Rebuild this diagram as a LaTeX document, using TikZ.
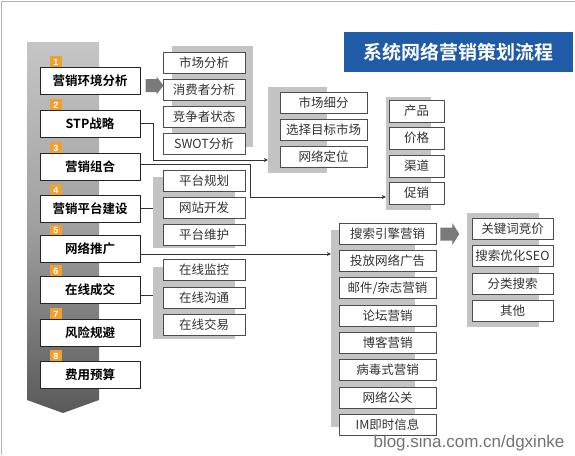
\documentclass[tikz,border=0pt]{standalone}
\usepackage{fontspec}
\setmainfont{Noto Sans CJK SC}
\newfontfamily\cjkbold{Noto Sans CJK SC Bold}
\newfontfamily\wmfont{Liberation Sans}
\usetikzlibrary{calc,arrows.meta}
\definecolor{tagorange}{HTML}{F0A030}
\definecolor{titleblue}{HTML}{1F5BA6}
\definecolor{panelgray}{HTML}{C4C4C4}
\definecolor{arrgray}{HTML}{7A7A7A}
\tikzset{
  stepbox/.style={draw=black!85, line width=1pt, fill=white, minimum width=100, minimum height=27, inner sep=0pt,
    font=\cjkbold\fontsize{12.5}{14}\selectfont, text=black},
  subbox/.style={draw=black!70, line width=0.6pt, fill=white, minimum height=21, inner sep=0pt,
    font=\fontsize{12.5}{14}\selectfont, text=black!80},
  panel/.style={fill=panelgray, draw=none, inner sep=0pt},
  tag/.style={fill=tagorange, minimum width=12, minimum height=12, inner sep=0pt, text=white,
    font=\wmfont\bfseries\fontsize{9}{10}\selectfont},
  conn/.style={draw=black!80, line width=0.6pt},
  connarrow/.style={conn, -{Stealth[length=4pt,width=4pt]}},
  bigarrow/.style={fill=arrgray}
}
\begin{document}
\begin{tikzpicture}[x=1pt,y=-1pt]
\useasboundingbox (0,0) rectangle (575,455);
\fill[white] (0,0) rectangle (575,455);
% frame lines
\draw[gray!60, line width=0.8pt] (1.5,455) -- (1.5,1.5) -- (575,1.5);

% title
\node[fill=titleblue, minimum width=229, minimum height=40, inner sep=0pt, text=white,
  font=\cjkbold\fontsize{19}{22}\selectfont] (title) at (458.5,52) {系统网络营销策划流程};

% left band
\shade[top color=gray!45, bottom color=black!65, middle color=gray!75]
  (27,42) -- (99,42) -- (99,400) -- (63,413) -- (27,400) -- cycle;

% step boxes with tags
\foreach \i/\t/\txt in {1/67/营销环境分析, 2/110/STP战略, 3/153/营销组合, 4/195/营销平台建设,
                        5/235.5/网络推广, 6/276/在线成交, 7/319/风险规避, 8/361/费用预算}{
  \node[tag] (t\i) at (56,\t-5) {\i};
  \node[stepbox] (b\i) at (90,\t+13.5) {\txt};
}

% group 1 (环境分析)
\node[panel, minimum width=81, minimum height=101] (p1) at (212.5,96.5) {};
\foreach \k/\y/\txt in {1/62.5/市场分析, 2/89.5/消费者分析, 3/116.5/竞争者状态, 4/143.5/SWOT分析}{
  \node[subbox, minimum width=82] (s1\k) at (204,\y) {\txt};
}

% group 2 (STP)
\node[panel, minimum width=59, minimum height=86] (p2) at (297.5,130) {};
\foreach \k/\y/\txt in {1/102.5/市场细分, 2/129.5/选择目标市场, 3/156.5/网络定位}{
  \node[subbox, minimum width=87] (s2\k) at (323.5,\y) {\txt};
}

% group 3 (4P)
\node[panel, minimum width=45, minimum height=113] (p3) at (408.5,153.5) {};
\foreach \k/\y/\txt in {1/111/产品, 2/138/价格, 3/166/渠道, 4/193/促销}{
  \node[subbox, minimum width=55, minimum height=22] (s3\k) at (416.5,\y) {\txt};
}

% group 4 (平台)
\node[panel, minimum width=82, minimum height=71] (p4) at (194,212.5) {};
\foreach \k/\y/\txt in {1/180.5/平台规划, 2/207.5/网站开发, 3/234.5/平台维护}{
  \node[subbox, minimum width=82] (s4\k) at (204,\y) {\txt};
}

% group 5 (推广)
\node[panel, minimum width=84, minimum height=197] (p5) at (373,328.5) {};
\foreach \k/\y/\txt in {1/233.5/{搜索引擎营销}, 2/260.8/{投放网络广告}, 3/288.1/{邮件/杂志营销}, 4/315.4/{论坛营销},
                        5/342.7/{博客营销}, 6/370/{病毒式营销}, 7/397.3/{网络公关}, 8/424.6/{IM即时信息}}{
  \node[subbox, minimum width=97] (s5\k) at (387.5,\y) {\txt};
}

% group 6 (搜索)
\node[panel, minimum width=72, minimum height=114] (p6) at (503,270) {};
\foreach \k/\y/\txt in {1/228.5/关键词竞价, 2/256/搜索优化SEO, 3/283.5/分类搜索, 4/311/其他}{
  \node[subbox, minimum width=81] (s6\k) at (512.5,\y) {\txt};
}

% group 7 (成交)
\node[panel, minimum width=82, minimum height=72] (p7) at (194,303) {};
\foreach \k/\y/\txt in {1/269.5/在线监控, 2/297.5/在线沟通, 3/324.5/在线交易}{
  \node[subbox, minimum width=82] (s7\k) at (204,\y) {\txt};
}

% big gray arrows
\coordinate (a1) at ($(b1.east)+(5,5)$);
\fill[bigarrow] (a1) ++(0,-6.5) -- ++(11,0) -- ++(0,-2.5) -- ++(7,9) -- ++(-7,9) -- ++(0,-2.5) -- ++(-11,0) -- cycle;
\coordinate (a2) at ($(s51.east)+(4,0.5)$);
\fill[bigarrow] (a2) ++(0,-6.5) -- ++(12,0) -- ++(0,-4.5) -- ++(7,11) -- ++(-7,11) -- ++(0,-4.5) -- ++(-12,0) -- cycle;

% connectors
\draw[connarrow] (b2.east) -- ++(13,0) |- ($(p2.west)+(0,30)$);
\coordinate (c3) at ($(b3.east)+(0,-2)$);
\draw[connarrow] (c3) -- ++(110,0) |- ($(p3.west)+(0,43.5)$);
\draw[conn] (b4.east) -- (b4.east -| p4.west);
\coordinate (c5) at ($(b5.east)+(0,5)$);
\draw[connarrow] (c5) -- (c5 -| p5.west);
\coordinate (c6) at ($(b6.east)+(0,6)$);
\draw[conn] (c6) -- (c6 -| p7.west);

% watermark
\node[text=black!55, font=\wmfont\fontsize{17}{19}\selectfont, inner sep=0pt] (wm) at (469,443) {blog.sina.com.cn/dgxinke};
\end{tikzpicture}
\end{document}
